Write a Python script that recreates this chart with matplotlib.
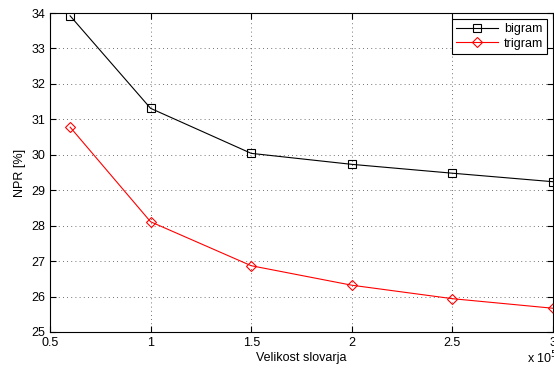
import matplotlib
matplotlib.use('Agg')
import matplotlib.pyplot as plt

plt.rcParams['font.family'] = ['Liberation Sans', 'DejaVu Sans']

x = [0.6, 1.0, 1.5, 2.0, 2.5, 3.0]
bigram = [33.92, 31.31, 30.04, 29.73, 29.48, 29.24]
trigram = [30.78, 28.11, 26.87, 26.32, 25.94, 25.67]

fig = plt.figure(figsize=(5.54, 3.69), dpi=100)
ax = fig.add_axes([50/554, 37/369, 503/554, 319/369])

ax.plot(x, bigram, color='black', lw=0.8, marker='s', ms=5.5, mfc='none', mec='black', mew=0.8, label='bigram')
ax.plot(x, trigram, color='red', lw=0.8, marker='D', ms=5.5, mfc='none', mec='red', mew=0.8, label='trigram')

ax.set_xlim(0.5, 3)
ax.set_ylim(25, 34)
ax.set_xticks([0.5, 1, 1.5, 2, 2.5, 3])
ax.set_xticklabels(['0.5', '1', '1.5', '2', '2.5', '3'])
ax.set_yticks(range(25, 35))
ax.grid(True, ls=(0, (1, 4)), color='#444444', lw=0.6)
ax.tick_params(direction='in', top=True, right=True, labelsize=9, length=4, width=0.8)
for s in ax.spines.values():
    s.set_linewidth(0.8)

ax.set_xlabel('Velikost slovarja', fontsize=9, labelpad=2)
ax.set_ylabel('NPR [%]', fontsize=9, labelpad=4)
fig.text(527/554, 3/369, r'x 10$^5$', fontsize=9, ha='left', va='bottom')

leg = ax.legend(loc='upper right', fontsize=9, fancybox=False, framealpha=1, edgecolor='black',
                borderpad=0.35, handlelength=3.3, labelspacing=0.2, borderaxespad=0.45,
                handletextpad=0.5)
leg.get_frame().set_linewidth(0.8)

fig.savefig('out.png', dpi=100)
